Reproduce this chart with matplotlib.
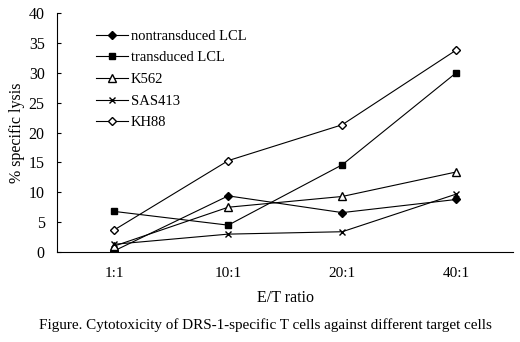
import matplotlib
matplotlib.use('Agg')
import matplotlib.pyplot as plt

plt.rcParams['font.family'] = ['Liberation Serif', 'DejaVu Serif']

ratios = ['1:1', '10:1', '20:1', '40:1']
nontransduced = [0.2, 9.4, 6.6, 8.8]
transduced = [6.8, 4.5, 14.6, 30.0]
k562 = [1.0, 7.5, 9.3, 13.4]
sas413 = [1.3, 3.0, 3.4, 9.7]
kh88 = [3.7, 15.3, 21.3, 33.8]

series = [
    ('nontransduced LCL', nontransduced, dict(marker='D', ms=4.2, mfc='black')),
    ('transduced LCL', transduced, dict(marker='s', ms=5, mfc='black')),
    ('K562', k562, dict(marker='^', ms=6, mfc='white')),
    ('SAS413', sas413, dict(marker='x', ms=3.8, mew=1.0)),
    ('KH88', kh88, dict(marker='D', ms=4.2, mfc='white')),
]

fig = plt.figure(figsize=(5.2, 3.42), dpi=100)
ax = fig.add_axes([0.11, 0.263, 0.877, 0.699])
xs = [i + 0.5 for i in range(len(ratios))]
for name, vals, st in series:
    ax.plot(xs, vals, color='black', lw=0.8, mec='black', label=name, **st)

ax.set_xlim(0, 4)
ax.set_ylim(0, 40)
ax.set_yticks(range(0, 41, 5))
ax.set_xticks(xs)
ax.set_xticklabels(ratios)
ax.tick_params(axis='y', direction='in', length=3, labelsize=11.5, width=0.8, pad=9)
ax.tick_params(axis='x', length=0, labelsize=11, pad=11)
for s in ['top', 'right']:
    ax.spines[s].set_visible(False)
ax.spines['left'].set_linewidth(0.8)
ax.spines['bottom'].set_linewidth(0.8)
ax.set_ylabel('% specific lysis', fontsize=11.5, labelpad=3)
ax.set_xlabel('E/T ratio', fontsize=11.5, labelpad=7)

ax.legend(loc='upper left', bbox_to_anchor=(0.072, 0.955), frameon=False,
          fontsize=10.5, handlelength=2.2, labelspacing=0.58, handletextpad=0.2,
          borderaxespad=0)

fig.text(0.51, 0.05, 'Figure. Cytotoxicity of DRS-1-specific T cells against different target cells',
         ha='center', va='center', fontsize=10.9)

fig.savefig('out.png', dpi=100)
